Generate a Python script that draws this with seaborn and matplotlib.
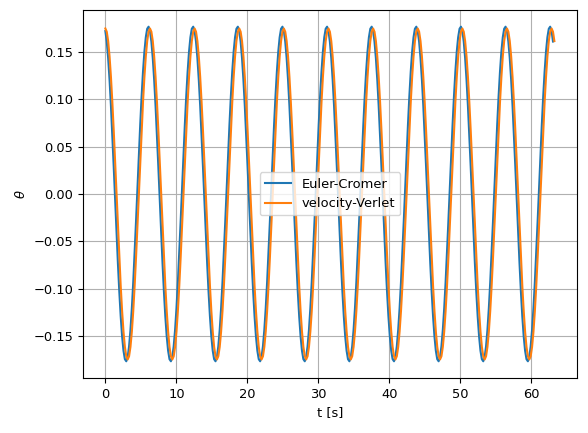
import numpy as np
import pandas as pd
import seaborn as sns
import matplotlib.pyplot as plt

# time step of the sampled curves (s)
DT = 0.19635

euler_cromer = [
    0.1723, 0.1612, 0.1438, 0.1209, 0.0933, 0.0622, 0.0287, -0.0059, -0.0404, -0.0732, -0.1032, -0.1293, -0.1504, -0.1657, -0.1747, -0.1769,
    -0.1723, -0.1612, -0.1438, -0.1209, -0.0933, -0.0622, -0.0287, 0.0059, 0.0404, 0.0732, 0.1032, 0.1293, 0.1504, 0.1657, 0.1747, 0.1769,
    0.1723, 0.1612, 0.1438, 0.1209, 0.0933, 0.0622, 0.0287, -0.0059, -0.0404, -0.0732, -0.1032, -0.1293, -0.1504, -0.1657, -0.1747, -0.1769,
    -0.1723, -0.1612, -0.1438, -0.1209, -0.0933, -0.0622, -0.0287, 0.0059, 0.0404, 0.0732, 0.1032, 0.1293, 0.1504, 0.1657, 0.1747, 0.1769,
    0.1723, 0.1612, 0.1438, 0.1209, 0.0933, 0.0622, 0.0287, -0.0059, -0.0404, -0.0732, -0.1032, -0.1293, -0.1504, -0.1657, -0.1747, -0.1769,
    -0.1723, -0.1612, -0.1438, -0.1209, -0.0933, -0.0622, -0.0287, 0.0059, 0.0404, 0.0732, 0.1032, 0.1293, 0.1504, 0.1657, 0.1747, 0.1769,
    0.1723, 0.1612, 0.1438, 0.1209, 0.0933, 0.0622, 0.0287, -0.0059, -0.0404, -0.0732, -0.1032, -0.1293, -0.1504, -0.1657, -0.1747, -0.1769,
    -0.1723, -0.1612, -0.1438, -0.1209, -0.0933, -0.0622, -0.0287, 0.0059, 0.0404, 0.0732, 0.1032, 0.1293, 0.1504, 0.1657, 0.1747, 0.1769,
    0.1723, 0.1612, 0.1438, 0.1209, 0.0933, 0.0622, 0.0287, -0.0059, -0.0404, -0.0732, -0.1032, -0.1293, -0.1504, -0.1657, -0.1747, -0.1769,
    -0.1723, -0.1612, -0.1438, -0.1209, -0.0933, -0.0622, -0.0287, 0.0059, 0.0404, 0.0732, 0.1032, 0.1293, 0.1504, 0.1657, 0.1747, 0.1769,
    0.1723, 0.1612, 0.1438, 0.1209, 0.0933, 0.0622, 0.0287, -0.0059, -0.0404, -0.0732, -0.1032, -0.1293, -0.1504, -0.1657, -0.1747, -0.1769,
    -0.1723, -0.1612, -0.1438, -0.1209, -0.0933, -0.0622, -0.0287, 0.0059, 0.0404, 0.0732, 0.1032, 0.1293, 0.1504, 0.1657, 0.1747, 0.1769,
    0.1723, 0.1612, 0.1438, 0.1209, 0.0933, 0.0622, 0.0287, -0.0059, -0.0404, -0.0732, -0.1032, -0.1293, -0.1504, -0.1657, -0.1747, -0.1769,
    -0.1723, -0.1612, -0.1438, -0.1209, -0.0933, -0.0622, -0.0287, 0.0059, 0.0404, 0.0732, 0.1032, 0.1293, 0.1504, 0.1657, 0.1747, 0.1769,
    0.1723, 0.1612, 0.1438, 0.1209, 0.0933, 0.0622, 0.0287, -0.0059, -0.0404, -0.0732, -0.1032, -0.1293, -0.1504, -0.1657, -0.1747, -0.1769,
    -0.1723, -0.1612, -0.1438, -0.1209, -0.0933, -0.0622, -0.0287, 0.0059, 0.0404, 0.0732, 0.1032, 0.1293, 0.1504, 0.1657, 0.1747, 0.1769,
    0.1723, 0.1612, 0.1438, 0.1209, 0.0933, 0.0622, 0.0287, -0.0059, -0.0404, -0.0732, -0.1032, -0.1293, -0.1504, -0.1657, -0.1747, -0.1769,
    -0.1723, -0.1612, -0.1438, -0.1209, -0.0933, -0.0622, -0.0287, 0.0059, 0.0404, 0.0732, 0.1032, 0.1293, 0.1504, 0.1657, 0.1747, 0.1769,
    0.1723, 0.1612, 0.1438, 0.1209, 0.0933, 0.0622, 0.0287, -0.0059, -0.0404, -0.0732, -0.1032, -0.1293, -0.1504, -0.1657, -0.1747, -0.1769,
    -0.1723, -0.1612, -0.1438, -0.1209, -0.0933, -0.0622, -0.0287, 0.0059, 0.0404, 0.0732, 0.1032, 0.1293, 0.1504, 0.1657, 0.1747, 0.1769,
    0.1723, 0.1612,
]

velocity_verlet = [
    0.1750, 0.1716, 0.1617, 0.1455, 0.1237, 0.0972, 0.0670, 0.0341, 0.0, -0.0341, -0.0670, -0.0972, -0.1237, -0.1455, -0.1617, -0.1716,
    -0.1750, -0.1716, -0.1617, -0.1455, -0.1237, -0.0972, -0.0670, -0.0341, 0.0, 0.0341, 0.0670, 0.0972, 0.1237, 0.1455, 0.1617, 0.1716,
    0.1750, 0.1716, 0.1617, 0.1455, 0.1237, 0.0972, 0.0670, 0.0341, 0.0, -0.0341, -0.0670, -0.0972, -0.1237, -0.1455, -0.1617, -0.1716,
    -0.1750, -0.1716, -0.1617, -0.1455, -0.1237, -0.0972, -0.0670, -0.0341, 0.0, 0.0341, 0.0670, 0.0972, 0.1237, 0.1455, 0.1617, 0.1716,
    0.1750, 0.1716, 0.1617, 0.1455, 0.1237, 0.0972, 0.0670, 0.0341, 0.0, -0.0341, -0.0670, -0.0972, -0.1237, -0.1455, -0.1617, -0.1716,
    -0.1750, -0.1716, -0.1617, -0.1455, -0.1237, -0.0972, -0.0670, -0.0341, 0.0, 0.0341, 0.0670, 0.0972, 0.1237, 0.1455, 0.1617, 0.1716,
    0.1750, 0.1716, 0.1617, 0.1455, 0.1237, 0.0972, 0.0670, 0.0341, 0.0, -0.0341, -0.0670, -0.0972, -0.1237, -0.1455, -0.1617, -0.1716,
    -0.1750, -0.1716, -0.1617, -0.1455, -0.1237, -0.0972, -0.0670, -0.0341, 0.0, 0.0341, 0.0670, 0.0972, 0.1237, 0.1455, 0.1617, 0.1716,
    0.1750, 0.1716, 0.1617, 0.1455, 0.1237, 0.0972, 0.0670, 0.0341, 0.0, -0.0341, -0.0670, -0.0972, -0.1237, -0.1455, -0.1617, -0.1716,
    -0.1750, -0.1716, -0.1617, -0.1455, -0.1237, -0.0972, -0.0670, -0.0341, 0.0, 0.0341, 0.0670, 0.0972, 0.1237, 0.1455, 0.1617, 0.1716,
    0.1750, 0.1716, 0.1617, 0.1455, 0.1237, 0.0972, 0.0670, 0.0341, 0.0, -0.0341, -0.0670, -0.0972, -0.1237, -0.1455, -0.1617, -0.1716,
    -0.1750, -0.1716, -0.1617, -0.1455, -0.1237, -0.0972, -0.0670, -0.0341, 0.0, 0.0341, 0.0670, 0.0972, 0.1237, 0.1455, 0.1617, 0.1716,
    0.1750, 0.1716, 0.1617, 0.1455, 0.1237, 0.0972, 0.0670, 0.0341, 0.0, -0.0341, -0.0670, -0.0972, -0.1237, -0.1455, -0.1617, -0.1716,
    -0.1750, -0.1716, -0.1617, -0.1455, -0.1237, -0.0972, -0.0670, -0.0341, 0.0, 0.0341, 0.0670, 0.0972, 0.1237, 0.1455, 0.1617, 0.1716,
    0.1750, 0.1716, 0.1617, 0.1455, 0.1237, 0.0972, 0.0670, 0.0341, 0.0, -0.0341, -0.0670, -0.0972, -0.1237, -0.1455, -0.1617, -0.1716,
    -0.1750, -0.1716, -0.1617, -0.1455, -0.1237, -0.0972, -0.0670, -0.0341, 0.0, 0.0341, 0.0670, 0.0972, 0.1237, 0.1455, 0.1617, 0.1716,
    0.1750, 0.1716, 0.1617, 0.1455, 0.1237, 0.0972, 0.0670, 0.0341, 0.0, -0.0341, -0.0670, -0.0972, -0.1237, -0.1455, -0.1617, -0.1716,
    -0.1750, -0.1716, -0.1617, -0.1455, -0.1237, -0.0972, -0.0670, -0.0341, 0.0, 0.0341, 0.0670, 0.0972, 0.1237, 0.1455, 0.1617, 0.1716,
    0.1750, 0.1716, 0.1617, 0.1455, 0.1237, 0.0972, 0.0670, 0.0341, 0.0, -0.0341, -0.0670, -0.0972, -0.1237, -0.1455, -0.1617, -0.1716,
    -0.1750, -0.1716, -0.1617, -0.1455, -0.1237, -0.0972, -0.0670, -0.0341, 0.0, 0.0341, 0.0670, 0.0972, 0.1237, 0.1455, 0.1617, 0.1716,
    0.1750, 0.1716, 0.1617,
]

labels = ["Euler-Cromer", "velocity-Verlet"]

df = pd.concat([
    pd.DataFrame({"t": np.arange(len(euler_cromer)) * DT,
                  "theta": euler_cromer, "method": labels[0]}),
    pd.DataFrame({"t": np.arange(len(velocity_verlet)) * DT,
                  "theta": velocity_verlet, "method": labels[1]}),
])

plt.rcParams["font.size"] = 9.4

fig, ax = plt.subplots(figsize=(5.88, 4.33), dpi=100)
fig.subplots_adjust(left=0.141, right=0.981, top=0.977, bottom=0.127)

sns.lineplot(data=df, x="t", y="theta", hue="method",
             palette=["tab:blue", "tab:orange"], linewidth=1.5, ax=ax)

ax.set_xlabel("t [s]")
ax.set_ylabel(r"$\theta$")
ax.grid(True)
ax.legend(loc="center")

fig.savefig("out.png")
